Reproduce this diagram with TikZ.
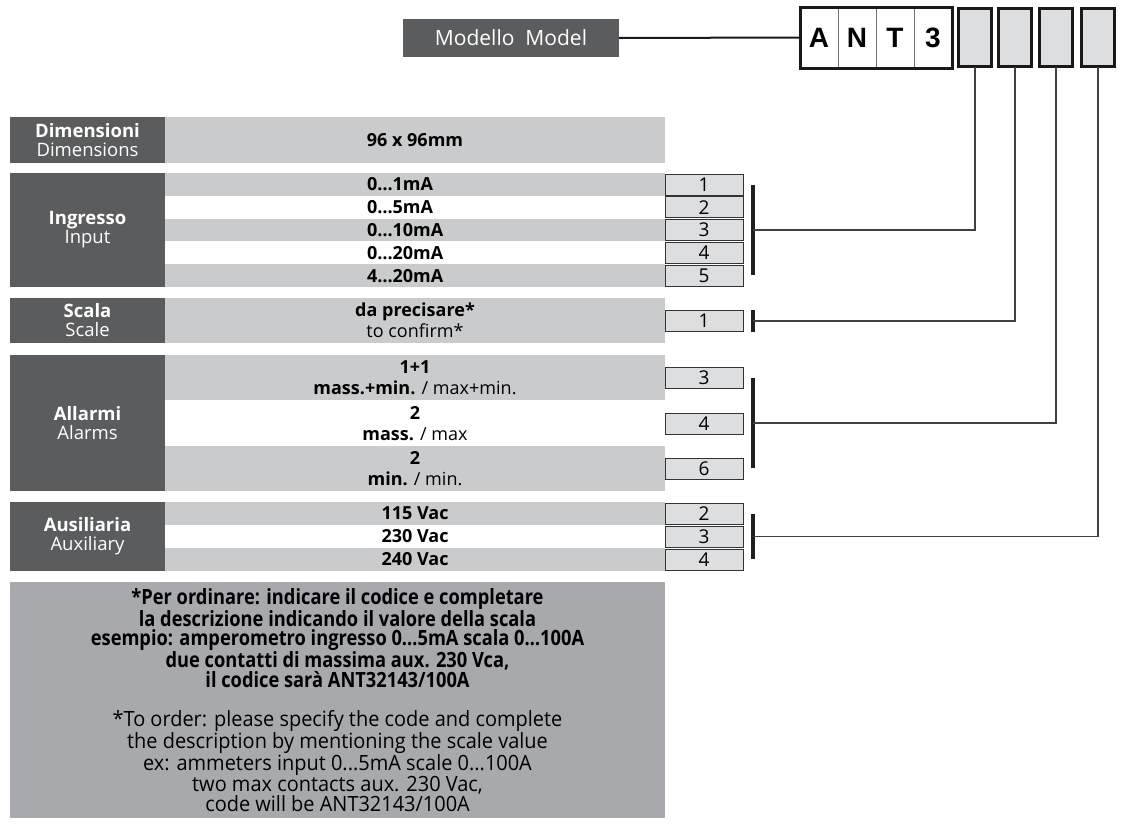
\documentclass[tikz,border=0pt]{standalone}
\usepackage{fontspec}
\setmainfont{Open Sans}
\newfontfamily\antfont{Liberation Sans}
\newfontfamily\notefont[FakeStretch=0.87]{Open Sans}
\newfontfamily\noteenfont[FakeStretch=0.95]{Open Sans}
\usetikzlibrary{positioning,calc}

\definecolor{headgray}{RGB}{91,92,94}
\definecolor{bargray}{RGB}{202,203,205}
\definecolor{boxgray}{RGB}{221,222,224}
\definecolor{notegray}{RGB}{168,169,172}

\begin{document}
\begin{tikzpicture}[x=1pt, y=-1pt,
    every node/.style={inner sep=0pt, outer sep=0pt},
    head/.style={fill=headgray, text=white, anchor=north west, minimum width=155pt, align=center, font=\fontsize{18.5}{19}\selectfont},
    bar/.style={fill=bargray, anchor=north west, minimum width=500pt, align=center, font=\bfseries\fontsize{18}{21}\selectfont},
    whitebar/.style={bar, fill=white},
    numbox/.style={draw=black!80, line width=0.9pt, fill=boxgray, anchor=north west, minimum width=78pt, minimum height=21pt, font=\fontsize{19}{19}\selectfont},
    cell/.style={draw=black!55, line width=1pt, fill=white, anchor=north west, minimum width=38pt, minimum height=61pt, font=\antfont\bfseries\fontsize{28}{28}\selectfont},
    codebox/.style={draw=black!90, line width=3pt, fill=boxgray, anchor=north west, minimum width=33pt, minimum height=58pt},
    bracket/.style={line width=4pt, black!88},
    link/.style={line width=1.2pt, black!75}]
    \useasboundingbox (0,0) rectangle (1123,830);

    % Model code
    \node[fill=headgray, text=white, anchor=north west, minimum width=216pt, minimum height=38pt,
          font=\fontsize{21}{21}\selectfont] (model) at (403,19) {Modello\ \ Model};
    \foreach \l [count=\i from 0] in {A,N,T,3}
        \node[cell] (c\i) at ({800+38*\i},7) {\l};
    \draw[line width=3pt, black!90] (c0.north west) rectangle (c3.south east);
    \foreach \x [count=\i] in {958.5,998.5,1039.5,1081.5}
        \node[codebox] (g\i) at (\x,8.5) {};
    \draw[line width=2pt, black!90] (model.east) -- (c0.west);

    % Dimensions
    \node[head, minimum height=46pt] (hdim) at (10,117) {\textbf{Dimensioni}\\Dimensions};
    \node[bar, minimum height=46pt] (bdim) at (165,117) {96 x 96mm};

    % Input
    \node[head, minimum height=114pt] (hin) at (10,173) {\textbf{Ingresso}\\Input};
    \foreach \v/\n [count=\i from 0] in {0…1mA/1, 0…5mA/2, 0…10mA/3, 0…20mA/4, 4…20mA/5} {
        \pgfmathtruncatemacro{\odd}{mod(\i,2)}
        \ifnum\odd=0
            \node[bar, minimum height=22.8pt] (bin\n) at (165,{173+22.8*\i}) {};
        \else
            \node[whitebar, minimum height=22.8pt] (bin\n) at (165,{173+22.8*\i}) {};
        \fi
        \node[anchor=west, font=\bfseries\fontsize{18}{18}\selectfont] (vin\n) at ($(bin\n.west)+(202,0)$) {\v};
        \node[numbox] (nin\n) at (665,{174+22.8*\i}) {\n};
    }
    \draw[bracket] (753,185) -- (753,275);
    \coordinate (brin) at (753,230);

    % Scale
    \node[head, minimum height=45pt] (hsc) at (10,298) {\textbf{Scala}\\Scale};
    \node[bar, minimum height=45pt] (bsc) at (165,298) {da precisare*\\{\mdseries to confirm*}};
    \node[numbox] (nsc) at (665,310) {1};
    \draw[bracket] (753,310) -- (753,332);
    \coordinate (brsc) at (753,321);

    % Alarms
    \node[head, minimum height=136pt] (hal) at (10,355) {\textbf{Allarmi}\\Alarms};
    \node[bar, minimum height=45.4pt] (bal1) at (165,355) {1+1\\mass.+min. {\mdseries / max+min.}};
    \node[whitebar, minimum height=45.4pt] (bal2) at (165,400.4) {2\\mass. {\mdseries / max}};
    \node[bar, minimum height=45.4pt] (bal3) at (165,445.8) {2\\min. {\mdseries / min.}};
    \node[numbox] (nal3) at (665,367) {3};
    \node[numbox] (nal4) at (665,413) {4};
    \node[numbox] (nal6) at (665,458) {6};
    \draw[bracket] (753,378) -- (753,468);
    \coordinate (bral) at (753,423);

    % Auxiliary
    \node[head, minimum height=69pt] (hau) at (10,502) {\textbf{Ausiliaria}\\Auxiliary};
    \node[bar, minimum height=23pt] (bau1) at (165,502) {115 Vac};
    \node[whitebar, minimum height=23pt] (bau2) at (165,525) {230 Vac};
    \node[bar, minimum height=23pt] (bau3) at (165,548) {240 Vac};
    \node[numbox] (nau2) at (665,503) {2};
    \node[numbox] (nau3) at (665,526) {3};
    \node[numbox] (nau4) at (665,549) {4};
    \draw[bracket] (753,514) -- (753,559);
    \coordinate (brau) at (753,536.5);

    % links to the code
    \draw[link] (g1.south) |- (brin);
    \draw[link] (g2.south) |- (brsc);
    \draw[link] (g3.south) |- (bral);
    \draw[link] (g4.south) |- (brau);

    % Note
    \node[fill=notegray, anchor=north west, minimum width=655pt, minimum height=236pt, align=center,
          font=\fontsize{21}{19.6}\selectfont] (note) at (10,582)
        {\notefont\bfseries *Per ordinare: indicare il codice e completare\\
         \notefont\bfseries la descrizione indicando il valore della scala\\
         \notefont\bfseries esempio: amperometro ingresso 0…5mA scala 0…100A\\
         \notefont\bfseries due contatti di massima aux. 230 Vca,\\
         \notefont\bfseries il codice sarà ANT32143/100A\\[19.6pt]
         \noteenfont *To order: please specify the code and complete\\
         \noteenfont the description by mentioning the scale value\\
         \noteenfont ex: ammeters input 0...5mA scale 0...100A\\
         \noteenfont two max contacts aux. 230 Vac,\\
         \noteenfont code will be ANT32143/100A};
\end{tikzpicture}
\end{document}
